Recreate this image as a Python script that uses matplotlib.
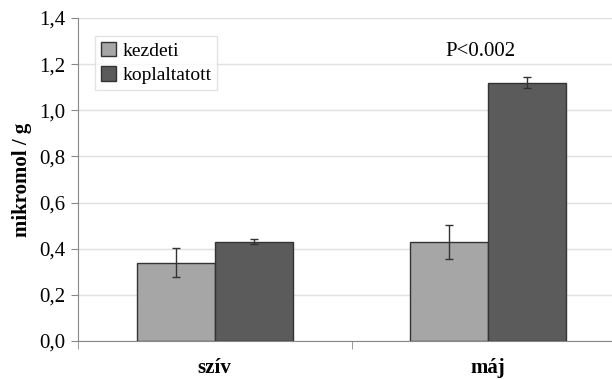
import matplotlib.pyplot as plt
import numpy as np

categories = ["szív", "máj"]
series = ["kezdeti", "koplaltatott"]
kezdeti = [0.34, 0.43]
kezdeti_err = [0.062, 0.074]
koplaltatott = [0.43, 1.12]
koplaltatott_err = [0.011, 0.025]
yticks = [0.0, 0.2, 0.4, 0.6, 0.8, 1.0, 1.2, 1.4]

plt.rcParams['font.family'] = ['Liberation Serif', 'DejaVu Serif']

fig = plt.figure(figsize=(6.12, 3.79), dpi=100)
ax = fig.add_axes([78 / 612, 38 / 379, 547 / 612, 323 / 379])

x = np.arange(len(categories))
w = 0.285
ekw = dict(ecolor='#333333', elinewidth=1, capsize=3, capthick=1)
ax.bar(x - w / 2, kezdeti, w, yerr=kezdeti_err, color='#a6a6a6',
       edgecolor='#333333', linewidth=1, label=series[0], error_kw=ekw, zorder=3)
ax.bar(x + w / 2, koplaltatott, w, yerr=koplaltatott_err, color='#5b5b5b',
       edgecolor='#333333', linewidth=1, label=series[1], error_kw=ekw, zorder=3)

ax.set_xlim(-0.5, 1.5)
ax.set_ylim(0, 1.4)
ax.set_yticks(yticks)
ax.set_yticklabels([f"{v:.1f}".replace('.', ',') for v in yticks], fontsize=15)
ax.yaxis.grid(True, color='#e0e0e0', linewidth=1, zorder=0)
ax.set_axisbelow(True)

ax.set_xticks(x)
ax.set_xticklabels(categories, fontsize=15, fontweight='bold')
ax.tick_params(axis='x', length=0, pad=12)
ax.set_xticks([-0.5, 0.5, 1.5], minor=True)
ax.tick_params(axis='x', which='minor', length=6, color='#888888')
ax.tick_params(axis='y', length=5, color='#888888', pad=4)

for s in ['top', 'right']:
    ax.spines[s].set_visible(False)
for s in ['left', 'bottom']:
    ax.spines[s].set_color('#888888')

ax.set_ylabel("mikromol / g", fontsize=15, fontweight='bold', labelpad=5)

ax.text(0.97, 1.253, "P<0.002", ha='center', va='center', fontsize=15)

leg = ax.legend(loc='upper left', bbox_to_anchor=(0.031, 0.945), fontsize=14,
                frameon=True, fancybox=False, edgecolor='#dddddd',
                handlelength=0.8, handleheight=0.8, handletextpad=0.3,
                borderpad=0.3, labelspacing=0.3, borderaxespad=0)

fig.savefig("out.png", dpi=100)
